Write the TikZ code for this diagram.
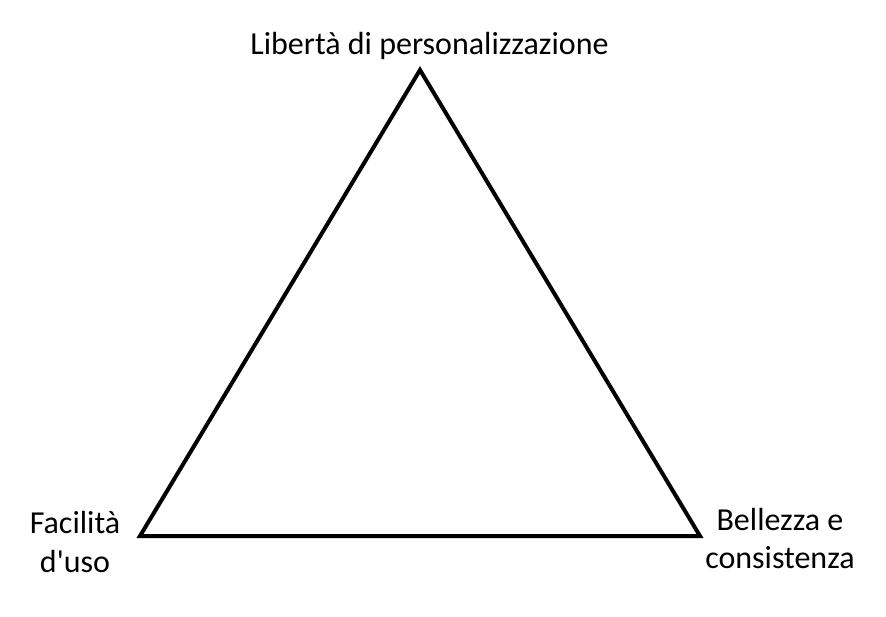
\documentclass[tikz,border=0pt]{standalone}
\usepackage{fontspec}
\setmainfont{Carlito}[Ligatures=TeXOff]
\begin{document}
\begin{tikzpicture}[x=1pt,y=-1pt,
  lbl/.style={font=\fontsize{32}{38.5}\selectfont, align=center, inner sep=0pt, text=black},
  edge/.style={line width=4pt, line join=miter}]
\useasboundingbox (0,0) rectangle (886,617);
\coordinate (T) at (420,70);
\coordinate (L) at (140,536);
\coordinate (R) at (700,536);
\draw[edge] (T) -- (L) -- (R) -- cycle;
\node[lbl, anchor=base] (top) at (429.5,55) {Libertà di personalizzazione};
\node[lbl] (left) at (75,542) {Facilità\\d'uso};
\node[lbl] (right) at (780,538.5) {Bellezza e\\consistenza};
\end{tikzpicture}
\end{document}
